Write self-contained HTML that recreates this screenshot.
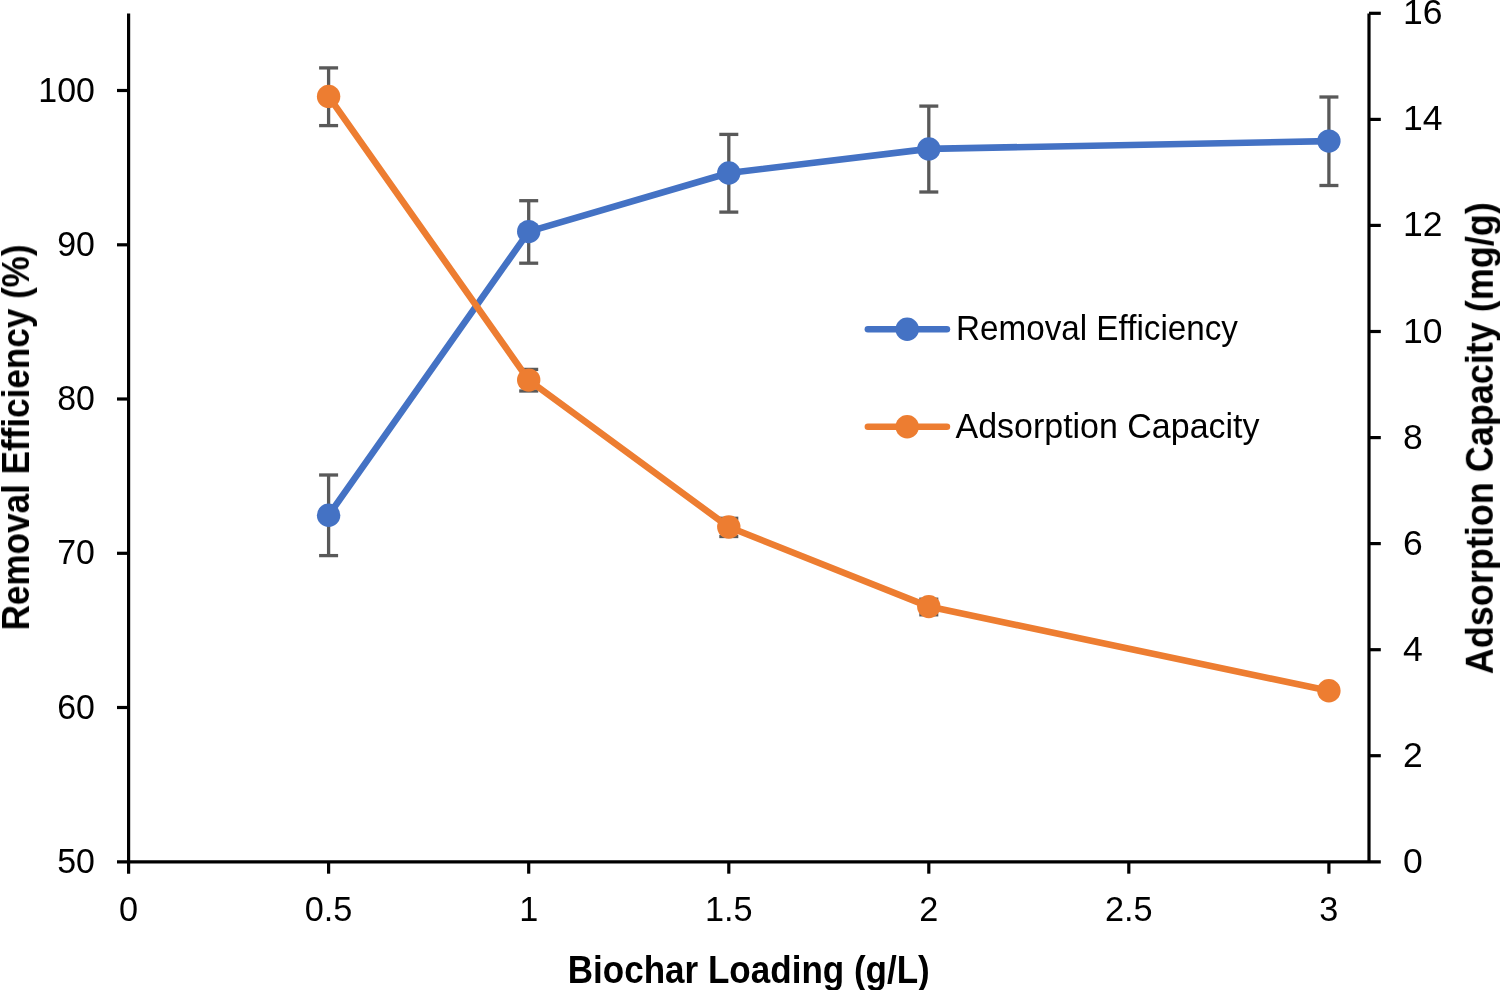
<!DOCTYPE html><html><head><meta charset="utf-8"><style>html,body{margin:0;padding:0;background:#fff;}svg{display:block;}text{font-family:"Liberation Sans",sans-serif;fill:#000;}.gs{filter:grayscale(1);}</style></head><body>
<svg width="1500" height="990" viewBox="0 0 1500 990">
<rect width="1500" height="990" fill="#fff"/>
<g stroke="#000" stroke-width="3.2" fill="none">
<line x1="128.6" y1="13.4" x2="128.6" y2="873.7"/>
<line x1="117" y1="861.8" x2="1380.8" y2="861.8"/>
<line x1="1369" y1="13.4" x2="1369" y2="861.8"/>
<line x1="117" y1="707.5" x2="128.6" y2="707.5"/>
<line x1="117" y1="553.3" x2="128.6" y2="553.3"/>
<line x1="117" y1="399.0" x2="128.6" y2="399.0"/>
<line x1="117" y1="244.8" x2="128.6" y2="244.8"/>
<line x1="117" y1="90.5" x2="128.6" y2="90.5"/>
<line x1="1369" y1="755.7" x2="1380.8" y2="755.7"/>
<line x1="1369" y1="649.7" x2="1380.8" y2="649.7"/>
<line x1="1369" y1="543.6" x2="1380.8" y2="543.6"/>
<line x1="1369" y1="437.6" x2="1380.8" y2="437.6"/>
<line x1="1369" y1="331.5" x2="1380.8" y2="331.5"/>
<line x1="1369" y1="225.4" x2="1380.8" y2="225.4"/>
<line x1="1369" y1="119.4" x2="1380.8" y2="119.4"/>
<line x1="1369" y1="13.3" x2="1380.8" y2="13.3"/>
<line x1="328.6" y1="861.8" x2="328.6" y2="873.7"/>
<line x1="528.7" y1="861.8" x2="528.7" y2="873.7"/>
<line x1="728.8" y1="861.8" x2="728.8" y2="873.7"/>
<line x1="928.8" y1="861.8" x2="928.8" y2="873.7"/>
<line x1="1128.8" y1="861.8" x2="1128.8" y2="873.7"/>
<line x1="1328.9" y1="861.8" x2="1328.9" y2="873.7"/>
</g>
<g font-size="35.5" class="gs">
<text transform="translate(94.9,872.8) scale(0.955,1)" text-anchor="end">50</text>
<text transform="translate(94.9,718.5) scale(0.955,1)" text-anchor="end">60</text>
<text transform="translate(94.9,564.3) scale(0.955,1)" text-anchor="end">70</text>
<text transform="translate(94.9,410.0) scale(0.955,1)" text-anchor="end">80</text>
<text transform="translate(94.9,255.8) scale(0.955,1)" text-anchor="end">90</text>
<text transform="translate(94.9,101.5) scale(0.955,1)" text-anchor="end">100</text>
<text x="1403" y="872.8">0</text>
<text x="1403" y="766.7">2</text>
<text x="1403" y="660.7">4</text>
<text x="1403" y="554.6">6</text>
<text x="1403" y="448.6">8</text>
<text x="1403" y="342.5">10</text>
<text x="1403" y="236.4">12</text>
<text x="1403" y="130.4">14</text>
<text x="1403" y="24.3">16</text>
<text transform="translate(128.6,920.8) scale(0.965,1)" text-anchor="middle">0</text>
<text transform="translate(328.6,920.8) scale(0.965,1)" text-anchor="middle">0.5</text>
<text transform="translate(528.7,920.8) scale(0.965,1)" text-anchor="middle">1</text>
<text transform="translate(728.8,920.8) scale(0.965,1)" text-anchor="middle">1.5</text>
<text transform="translate(928.8,920.8) scale(0.965,1)" text-anchor="middle">2</text>
<text transform="translate(1128.8,920.8) scale(0.965,1)" text-anchor="middle">2.5</text>
<text transform="translate(1328.9,920.8) scale(0.965,1)" text-anchor="middle">3</text>
</g>
<g stroke="#595959" stroke-width="3.3" fill="none">
<line x1="328.6" y1="475" x2="328.6" y2="555.6"/>
<line x1="319.1" y1="475" x2="338.1" y2="475"/>
<line x1="319.1" y1="555.6" x2="338.1" y2="555.6"/>
<line x1="528.7" y1="200.7" x2="528.7" y2="263.2"/>
<line x1="519.2" y1="200.7" x2="538.2" y2="200.7"/>
<line x1="519.2" y1="263.2" x2="538.2" y2="263.2"/>
<line x1="728.8" y1="134.4" x2="728.8" y2="212.1"/>
<line x1="719.3" y1="134.4" x2="738.3" y2="134.4"/>
<line x1="719.3" y1="212.1" x2="738.3" y2="212.1"/>
<line x1="928.8" y1="106.1" x2="928.8" y2="192"/>
<line x1="919.3" y1="106.1" x2="938.3" y2="106.1"/>
<line x1="919.3" y1="192" x2="938.3" y2="192"/>
<line x1="1328.9" y1="97" x2="1328.9" y2="185.5"/>
<line x1="1319.4" y1="97" x2="1338.4" y2="97"/>
<line x1="1319.4" y1="185.5" x2="1338.4" y2="185.5"/>
<line x1="328.6" y1="67.9" x2="328.6" y2="125.6"/>
<line x1="319.1" y1="67.9" x2="338.1" y2="67.9"/>
<line x1="319.1" y1="125.6" x2="338.1" y2="125.6"/>
<line x1="528.7" y1="369.4" x2="528.7" y2="391.0"/>
<line x1="519.2" y1="369.4" x2="538.2" y2="369.4"/>
<line x1="519.2" y1="391.0" x2="538.2" y2="391.0"/>
<line x1="728.8" y1="518.3" x2="728.8" y2="536.5"/>
<line x1="719.3" y1="518.3" x2="738.3" y2="518.3"/>
<line x1="719.3" y1="536.5" x2="738.3" y2="536.5"/>
<line x1="928.8" y1="599.2" x2="928.8" y2="614.8"/>
<line x1="919.3" y1="599.2" x2="938.3" y2="599.2"/>
<line x1="919.3" y1="614.8" x2="938.3" y2="614.8"/>
<line x1="1328.9" y1="687" x2="1328.9" y2="694.6"/>
<line x1="1319.4" y1="687" x2="1338.4" y2="687"/>
<line x1="1319.4" y1="694.6" x2="1338.4" y2="694.6"/>
</g>
<polyline points="328.6,515.3 528.7,231.6 728.8,173 928.8,148.9 1328.9,141.1" fill="none" stroke="#4472C4" stroke-width="6.6" stroke-linejoin="round" stroke-linecap="round"/>
<polyline points="328.6,96.4 528.7,380.1 728.8,527 928.8,606.6 1328.9,690.8" fill="none" stroke="#ED7D31" stroke-width="6.6" stroke-linejoin="round" stroke-linecap="round"/>
<circle cx="328.6" cy="515.3" r="11.7" fill="#4472C4"/>
<circle cx="528.7" cy="231.6" r="11.7" fill="#4472C4"/>
<circle cx="728.8" cy="173" r="11.7" fill="#4472C4"/>
<circle cx="928.8" cy="148.9" r="11.7" fill="#4472C4"/>
<circle cx="1328.9" cy="141.1" r="11.7" fill="#4472C4"/>
<circle cx="328.6" cy="96.4" r="11.7" fill="#ED7D31"/>
<circle cx="528.7" cy="380.1" r="11.7" fill="#ED7D31"/>
<circle cx="728.8" cy="527" r="11.7" fill="#ED7D31"/>
<circle cx="928.8" cy="606.6" r="11.7" fill="#ED7D31"/>
<circle cx="1328.9" cy="690.8" r="11.7" fill="#ED7D31"/>
<line x1="867.9" y1="329.3" x2="946.9" y2="329.3" stroke="#4472C4" stroke-width="6.6" stroke-linecap="round"/>
<circle cx="907.2" cy="329.3" r="11.7" fill="#4472C4"/>
<line x1="867.9" y1="426.8" x2="946.9" y2="426.8" stroke="#ED7D31" stroke-width="6.6" stroke-linecap="round"/>
<circle cx="907.2" cy="426.8" r="11.7" fill="#ED7D31"/>
<g class="gs">
<text x="956" y="340.2" font-size="34.3" textLength="282" lengthAdjust="spacingAndGlyphs">Removal Efficiency</text>
<text x="955.5" y="437.6" font-size="34.3" textLength="304" lengthAdjust="spacingAndGlyphs">Adsorption Capacity</text>
<text x="748.8" y="982.7" font-size="38.5" font-weight="bold" text-anchor="middle" textLength="362" lengthAdjust="spacingAndGlyphs">Biochar Loading (g/L)</text>
<text transform="translate(29,437.4) rotate(-90)" x="0" y="0" font-size="38.5" font-weight="bold" text-anchor="middle" textLength="386" lengthAdjust="spacingAndGlyphs">Removal Efficiency (%)</text>
<text transform="translate(1492.8,438.2) rotate(-90)" x="0" y="0" font-size="38.5" font-weight="bold" text-anchor="middle" textLength="472" lengthAdjust="spacingAndGlyphs">Adsorption Capacity (mg/g)</text>
</g>
</svg></body></html>
